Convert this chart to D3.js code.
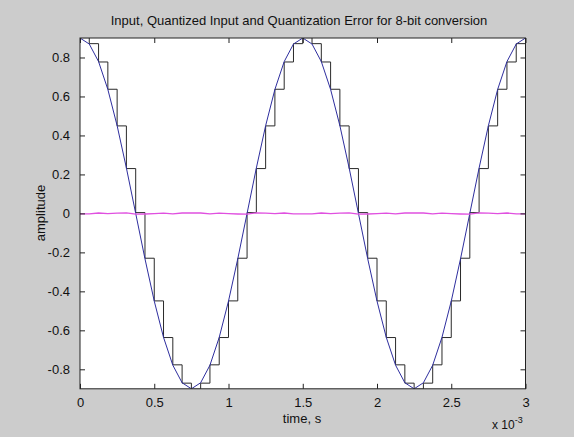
<!DOCTYPE html>
<html>
<head>
<meta charset="utf-8">
<script src="https://cdn.jsdelivr.net/npm/d3@7"></script>
<style>
  html, body { margin: 0; padding: 0; background: #cccccc; }
  svg { display: block; }
  text { font-family: "Liberation Sans", Arial, Helvetica, sans-serif; fill: #111; }
</style>
</head>
<body>
<svg id="chart" width="574" height="437"></svg>
<script>
// ---- data (time in ms) ----
const timeMs = [0, 0.0625, 0.125, 0.1875, 0.25, 0.3125, 0.375, 0.4375, 0.5, 0.5625, 0.625, 0.6875,
  0.75, 0.8125, 0.875, 0.9375, 1, 1.0625, 1.125, 1.1875, 1.25, 1.3125, 1.375, 1.4375,
  1.5, 1.5625, 1.625, 1.6875, 1.75, 1.8125, 1.875, 1.9375, 2, 2.0625, 2.125, 2.1875,
  2.25, 2.3125, 2.375, 2.4375, 2.5, 2.5625, 2.625, 2.6875, 2.75, 2.8125, 2.875, 2.9375, 3];

const inputSignal = [0.9, 0.869, 0.779, 0.636, 0.45, 0.233, 0, -0.233, -0.45, -0.636, -0.779, -0.869,
  -0.9, -0.869, -0.779, -0.636, -0.45, -0.233, 0, 0.233, 0.45, 0.636, 0.779, 0.869,
  0.9, 0.869, 0.779, 0.636, 0.45, 0.233, 0, -0.233, -0.45, -0.636, -0.779, -0.869,
  -0.9, -0.869, -0.779, -0.636, -0.45, -0.233, 0, 0.233, 0.45, 0.636, 0.779, 0.869, 0.9];

const quantizedSignal = [0.902, 0.871, 0.777, 0.637, 0.449, 0.230, 0.004, -0.230, -0.449, -0.637, -0.777, -0.871,
  -0.902, -0.871, -0.777, -0.637, -0.449, -0.230, 0.004, 0.230, 0.449, 0.637, 0.777, 0.871,
  0.902, 0.871, 0.777, 0.637, 0.449, 0.230, 0.004, -0.230, -0.449, -0.637, -0.777, -0.871,
  -0.902, -0.871, -0.777, -0.637, -0.449, -0.230, 0.004, 0.230, 0.449, 0.637, 0.777, 0.871, 0.902];

const quantError = [-0.002, -0.002, 0.002, -0.001, 0.001, 0.003, -0.004, -0.003, -0.001, 0.001, -0.002, 0.002,
  0.002, 0.002, -0.002, 0.001, -0.001, -0.003, -0.004, 0.003, 0.001, -0.001, 0.002, -0.002,
  -0.002, -0.002, 0.002, -0.001, 0.001, 0.003, -0.004, -0.003, -0.001, 0.001, -0.002, 0.002,
  0.002, 0.002, -0.002, 0.001, -0.001, -0.003, -0.004, 0.003, 0.001, -0.001, 0.002, -0.002, -0.002];

const xTicks = [0, 0.5, 1, 1.5, 2, 2.5, 3];
const yTicks = [-0.8, -0.6, -0.4, -0.2, 0, 0.2, 0.4, 0.6, 0.8];

const titleText = "Input, Quantized Input and Quantization Error for 8-bit conversion";
const xLabelText = "time, s";
const yLabelText = "amplitude";

// ---- layout ----
const W = 574, H = 437;
const plot = { left: 80, right: 525.5, top: 38, bottom: 388.8 };

const svg = d3.select("#chart");
svg.append("rect").attr("width", W).attr("height", H).attr("fill", "#cccccc");

const x = d3.scaleLinear().domain([0, 3]).range([plot.left, plot.right]);
const y = d3.scaleLinear().domain([-0.9, 0.9]).range([plot.bottom, plot.top]);

svg.append("defs").append("clipPath").attr("id", "clip")
  .append("rect").attr("x", plot.left).attr("y", plot.top)
  .attr("width", plot.right - plot.left).attr("height", plot.bottom - plot.top);

svg.append("rect")
  .attr("x", plot.left).attr("y", plot.top)
  .attr("width", plot.right - plot.left).attr("height", plot.bottom - plot.top)
  .attr("fill", "#ffffff");

const lines = svg.append("g").attr("clip-path", "url(#clip)");
const pts = (vals) => timeMs.map((t, i) => [t, vals[i]]);

// quantized input (stairs)
lines.append("path")
  .datum(pts(quantizedSignal))
  .attr("fill", "none").attr("stroke", "#2a2a2a").attr("stroke-width", 1)
  .attr("d", d3.line().x(d => x(d[0])).y(d => y(d[1])).curve(d3.curveStepAfter));

// input
lines.append("path")
  .datum(pts(inputSignal))
  .attr("fill", "none").attr("stroke", "#2e2e9e").attr("stroke-width", 1)
  .attr("d", d3.line().x(d => x(d[0])).y(d => y(d[1])));

// quantization error
lines.append("path")
  .datum(pts(quantError))
  .attr("fill", "none").attr("stroke", "#e050e0").attr("stroke-width", 1.3)
  .attr("d", d3.line().x(d => x(d[0])).y(d => y(d[1])));

// axes with inward ticks on all sides
const tickLen = 5;
const fmt = d => (d === 0 ? "0" : String(d));

const axB = svg.append("g").attr("transform", `translate(0,${plot.bottom})`)
  .call(d3.axisBottom(x).tickValues(xTicks).tickSize(-tickLen).tickPadding(tickLen + 4).tickFormat(fmt));
const axT = svg.append("g").attr("transform", `translate(0,${plot.top})`)
  .call(d3.axisTop(x).tickValues(xTicks).tickSize(-tickLen).tickFormat(""));
const axL = svg.append("g").attr("transform", `translate(${plot.left},0)`)
  .call(d3.axisLeft(y).tickValues(yTicks).tickSize(-tickLen).tickPadding(tickLen + 5).tickFormat(fmt));
const axR = svg.append("g").attr("transform", `translate(${plot.right},0)`)
  .call(d3.axisRight(y).tickValues(yTicks).tickSize(-tickLen).tickFormat(""));

[axB, axT, axL, axR].forEach(g => {
  g.select(".domain").remove();
  g.selectAll(".tick line").attr("stroke", "#222").attr("stroke-width", 1);
  g.selectAll(".tick text").style("font-size", "13px").attr("fill", "#111")
    .style("font-family", "'Liberation Sans', Arial, sans-serif");
});

svg.append("rect")
  .attr("x", plot.left).attr("y", plot.top)
  .attr("width", plot.right - plot.left).attr("height", plot.bottom - plot.top)
  .attr("fill", "none").attr("stroke", "#222").attr("stroke-width", 1);

// title and labels
svg.append("text").attr("x", 299).attr("y", 25)
  .attr("text-anchor", "middle").style("font-size", "13px").text(titleText);

svg.append("text").attr("x", 302).attr("y", 423)
  .attr("text-anchor", "middle").style("font-size", "13px").text(xLabelText);

svg.append("text").attr("transform", `translate(45,213) rotate(-90)`)
  .attr("text-anchor", "middle").style("font-size", "13px").text(yLabelText);

const mult = svg.append("text").attr("x", 492).attr("y", 429).style("font-size", "12px");
mult.append("tspan").text("x 10");
mult.append("tspan").attr("dy", -6).style("font-size", "9px").text("-3");
</script>
</body>
</html>
